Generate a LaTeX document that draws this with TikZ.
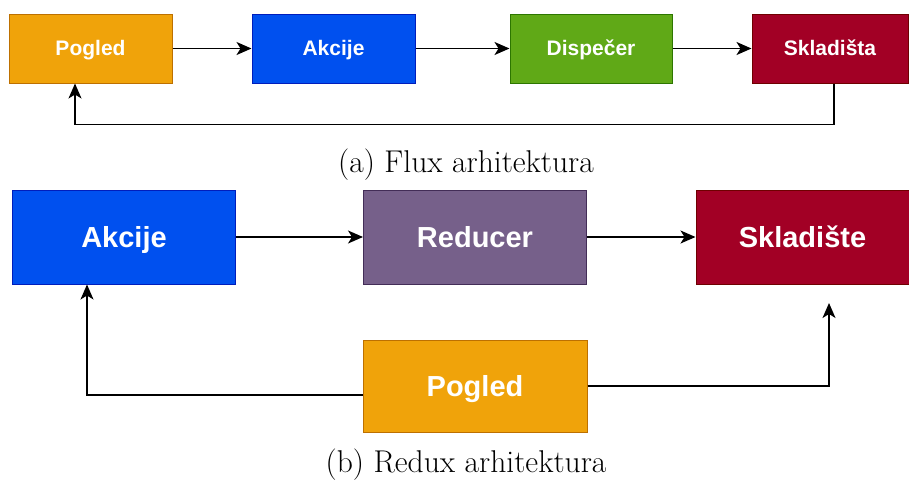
\documentclass[tikz,border=0pt]{standalone}
\usepackage{fontspec}
\newfontfamily\boxfont{Liberation Sans}
\usetikzlibrary{arrows.meta}
\definecolor{orangeF}{HTML}{F0A30A}
\definecolor{orangeD}{HTML}{BD7000}
\definecolor{blueF}{HTML}{0050EF}
\definecolor{blueD}{HTML}{001DBC}
\definecolor{greenF}{HTML}{60A917}
\definecolor{greenD}{HTML}{2D7600}
\definecolor{redF}{HTML}{A20025}
\definecolor{redD}{HTML}{6F0000}
\definecolor{purpleF}{HTML}{76608A}
\definecolor{purpleD}{HTML}{432D57}
\tikzset{
  box/.style={draw, line width=1pt, text=white, inner sep=0pt,
    font=\boxfont\bfseries\fontsize{21}{24}\selectfont,
    text height=15pt, text depth=1pt,
    minimum height=69pt},
  bigbox/.style={box, font=\boxfont\bfseries\fontsize{29}{33}\selectfont,
    text height=21pt, text depth=0pt,
    minimum height=94pt},
  caption/.style={font=\fontsize{31.5}{35}\selectfont},
  flow/.style={line width=1.5pt, -{Stealth[length=15pt,width=13pt,inset=4pt]}}
}
\begin{document}
\begin{tikzpicture}[x=1pt,y=-1pt]
\useasboundingbox (0,0) rectangle (909,479);
{\centering
% (a) Flux
\node[box, fill=orangeF, draw=orangeD, minimum width=163pt] (pogA) at (90.5, 48.5) {Pogled};
\node[box, fill=blueF, draw=blueD, minimum width=163pt] (akcA) at (333.5, 48.5) {Akcije};
\node[box, fill=greenF, draw=greenD, minimum width=162pt] (disA) at (591, 48.5) {Dispečer};
\node[box, fill=redF, draw=redD, minimum width=156pt] (sklA) at (830, 48.5) {Skladišta};

\draw[flow] (pogA) -- (akcA);
\draw[flow] (akcA) -- (disA);
\draw[flow] (disA) -- (sklA);
\draw[flow] ([xshift=4pt]sklA.south) -- ++(0,41) -| ([xshift=-15.5pt]pogA.south);

\node[caption] (capA) at (466, 165) {(a) Flux arhitektura};

% (b) Redux
\node[bigbox, fill=blueF, draw=blueD, minimum width=223pt] (akcB) at (124, 237) {Akcije};
\node[bigbox, fill=purpleF, draw=purpleD, minimum width=223pt] (redB) at (475, 237) {Reducer};
\node[bigbox, fill=redF, draw=redD, minimum width=213pt] (sklB) at (802.5, 237) {Skladište};
\node[bigbox, fill=orangeF, draw=orangeD, minimum width=224pt, minimum height=92pt] (pogB) at (475, 386) {Pogled};
\coordinate (sklTip) at (829, 303);

\draw[flow] (akcB) -- (redB);
\draw[flow] (redB) -- (sklB);
\draw[flow] ([yshift=-9pt]pogB.west) -| ([xshift=-37pt]akcB.south);
\draw[flow] (pogB.east) -| (sklTip);

\node[caption] (capB) at (466, 465) {(b) Redux arhitektura};
}
\end{tikzpicture}
\end{document}
